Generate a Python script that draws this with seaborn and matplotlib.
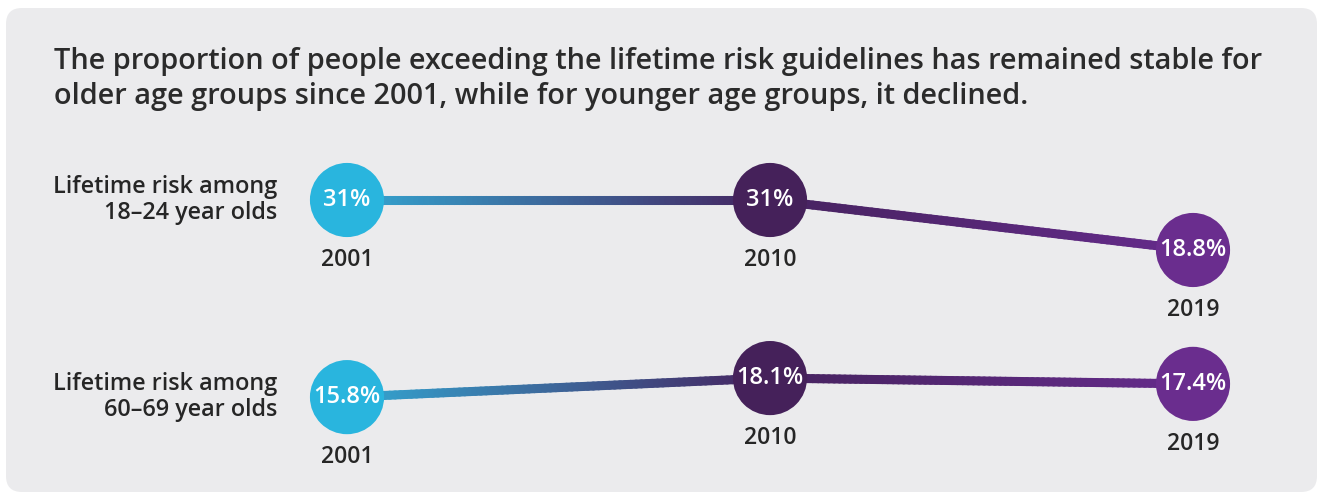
import numpy as np
import pandas as pd
import matplotlib.pyplot as plt
import seaborn as sns
from matplotlib.collections import LineCollection
from matplotlib.patches import FancyBboxPatch
from matplotlib.colors import to_rgb
from matplotlib.transforms import IdentityTransform

# Data
years = [2001, 2010, 2019]
young_risk = [31.0, 31.0, 18.8]
older_risk = [15.8, 18.1, 17.4]
young_labels = ['31%', '31%', '18.8%']
older_labels = ['15.8%', '18.1%', '17.4%']
row_titles = ['Lifetime risk among\n18–24 year olds',
              'Lifetime risk among\n60–69 year olds']
title = ('The proportion of people exceeding the lifetime risk guidelines has remained stable for\n'
         'older age groups since 2001, while for younger age groups, it declined.')

circle_colors = ['#29b5de', '#45215a', '#6a2d8e']
line_colors = ['#33a9d4', '#46235f', '#652b8b']
text_dark = '#262626'

sns.set_theme(style='white')
plt.rcParams['font.family'] = ['Open Sans', 'DejaVu Sans']

fig = plt.figure(figsize=(13.2, 4.95), dpi=100)
fig.patch.set_facecolor('white')

# grey rounded panel behind everything
panel = FancyBboxPatch((6, 3), 1311, 484, boxstyle='round,pad=0,rounding_size=16',
                       transform=IdentityTransform(), facecolor='#ebebed',
                       edgecolor='none', zorder=0)
fig.add_artist(panel)

fig.text(54 / 1320, 1 - 47 / 495, title, ha='left', va='top', fontsize=20.8,
         fontweight=600, color='#2b2b2b', linespacing=1.27)


def draw_row(ax, values, labels, row_title):
    df = pd.DataFrame({'year': [str(y) for y in years], 'x': years, 'risk': values})

    # gradient connecting line
    segs, cols = [], []
    for i in range(len(years) - 1):
        c0 = np.array(to_rgb(line_colors[i]))
        c1 = np.array(to_rgb(line_colors[i + 1]))
        t = np.linspace(0, 1, 80)
        xs = years[i] + t * (years[i + 1] - years[i])
        ys = values[i] + t * (values[i + 1] - values[i])
        for j in range(len(t) - 1):
            segs.append([(xs[j], ys[j]), (xs[j + 1], ys[j + 1])])
            cols.append(c0 + (c1 - c0) * (t[j] + t[j + 1]) / 2)
    ax.add_collection(LineCollection(segs, colors=cols, linewidths=6.5,
                                     capstyle='round', zorder=1))

    sns.scatterplot(data=df, x='x', y='risk', hue='year',
                    palette=dict(zip(df['year'], circle_colors)),
                    s=2850, linewidth=0, legend=False, ax=ax, zorder=2)

    for x, y, lab in zip(years, values, labels):
        ax.text(x, y, lab, ha='center', va='center', color='white',
                fontsize=17, fontweight=600, zorder=3)
        ax.annotate(str(x), (x, y), xytext=(0, -43), textcoords='offset points',
                    ha='center', va='center', fontsize=16.5, fontweight=600,
                    color=text_dark)

    ax.annotate(row_title, (years[0], values[0]), xytext=(-50, 0),
                textcoords='offset points', ha='right', va='center',
                multialignment='right', fontsize=16.8, fontweight=600,
                color=text_dark, linespacing=1.1)
    ax.set_xlim(2000, 2020)
    ax.set_axis_off()


ax1 = fig.add_axes([300 / 1320, 1 - 300 / 495, 940 / 1320, 150 / 495])
draw_row(ax1, young_risk, young_labels, row_titles[0])
ax1.set_ylim(6.6, 43.2)

ax2 = fig.add_axes([300 / 1320, 1 - 480 / 495, 940 / 1320, 150 / 495])
draw_row(ax2, older_risk, older_labels, row_titles[1])
ax2.set_ylim(5.8, 23.9)

fig.savefig('out.png', dpi=100)
